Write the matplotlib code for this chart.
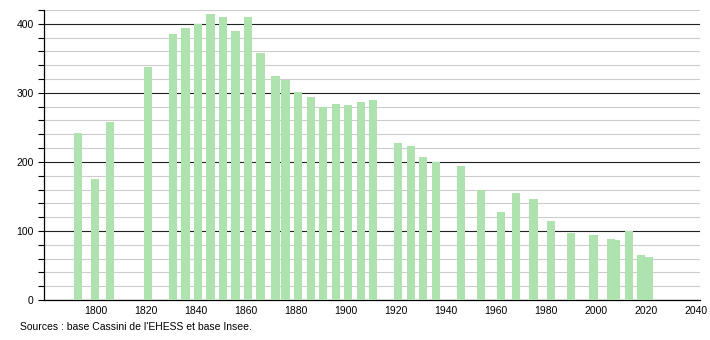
import numpy as np
import matplotlib
matplotlib.use("Agg")
import matplotlib.pyplot as plt
from matplotlib.ticker import MultipleLocator

years = [1793, 1800, 1806, 1821, 1831, 1836, 1841, 1846, 1851, 1856, 1861, 1866,
         1872, 1876, 1881, 1886, 1891, 1896, 1901, 1906, 1911, 1921, 1926, 1931,
         1936, 1946, 1954, 1962, 1968, 1975, 1982, 1990, 1999, 2006, 2008, 2013,
         2018, 2021]
population = [242, 175, 258, 338, 385, 394, 400, 414, 410, 389, 410, 358,
              325, 319, 301, 294, 280, 284, 283, 287, 290, 227, 223, 207,
              200, 194, 160, 128, 155, 147, 114, 97, 94, 89, 87, 100,
              65, 62]
x_ticks = list(range(1800, 2041, 20))
source = "Sources : base Cassini de l'EHESS et base Insee."

plt.rcParams["font.family"] = ["Liberation Sans", "DejaVu Sans"]

fig = plt.figure(figsize=(7.1, 3.4), dpi=100)
ax = fig.add_axes([44 / 710, 40 / 340, 656 / 710, 290 / 340])

ax.bar(years, population, width=3.3, color="#aee2ae", zorder=3)

ax.set_xlim(1779.5, 2041.5)
ax.set_ylim(0, 420)

ax.yaxis.set_major_locator(MultipleLocator(100))
ax.yaxis.set_minor_locator(MultipleLocator(20))
ax.grid(axis="y", which="minor", color="#cccccc", linewidth=0.8, zorder=1)
ax.grid(axis="y", which="major", color="#222222", linewidth=0.8, zorder=2)
ax.set_xticks(x_ticks)

ax.tick_params(axis="x", length=0, labelsize=7.5, pad=4)
ax.tick_params(axis="y", which="both", length=4.5, width=0.8, labelsize=7.5, pad=3)

for side in ["top", "right"]:
    ax.spines[side].set_visible(False)
ax.spines["left"].set_linewidth(0.9)
ax.spines["bottom"].set_linewidth(0.9)

fig.text(20 / 710, 1 - 327 / 340, source, fontsize=7.5, va="center", ha="left")

fig.savefig("out.png", dpi=100)
